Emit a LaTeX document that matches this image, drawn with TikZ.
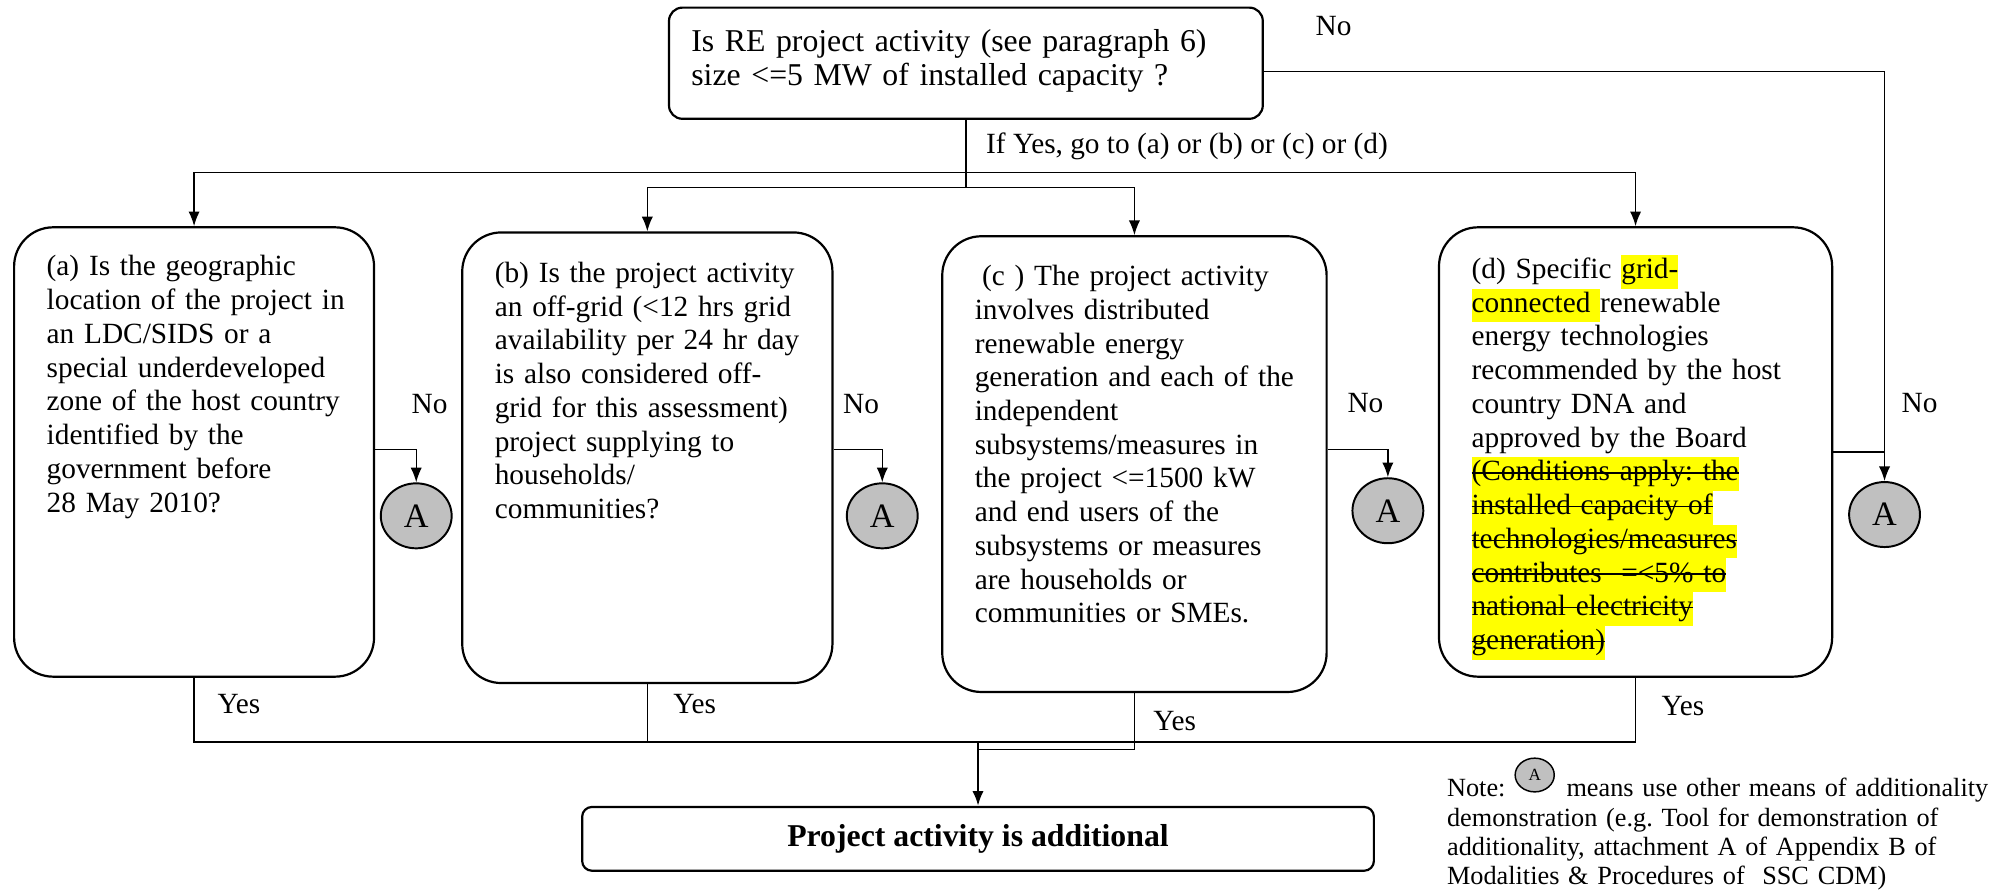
\documentclass[tikz,border=0pt]{standalone}
\usepackage{fontspec}
\setmainfont{Liberation Serif}
\usetikzlibrary{arrows.meta,shapes.geometric,calc}
\definecolor{agray}{HTML}{C0C0C0}
\definecolor{hlyellow}{HTML}{FFFF00}
\newsavebox{\stbox}
\newcommand{\hlt}[1]{{\setlength{\fboxsep}{0pt}\colorbox{hlyellow}{\strut #1}}}
\newcommand{\hls}[1]{{\setlength{\fboxsep}{0pt}\sbox{\stbox}{#1}%
  \colorbox{hlyellow}{\strut\rlap{\rule[0.25em]{\wd\stbox}{0.5pt}}\usebox{\stbox}}}}
\frenchspacing
\begin{document}
\begin{tikzpicture}[x=0.5225pt,y=-0.5225pt,
  qbox/.style={draw, line width=0.9pt, rounded corners=16pt, inner sep=0pt},
  topbox/.style={draw, line width=0.9pt, rounded corners=5.5pt, inner sep=0pt},
  resbox/.style={draw, line width=0.9pt, rounded corners=4pt, inner sep=0pt,
    font=\fontsize{13}{15}\selectfont\bfseries},
  txt/.style={anchor=base west, inner sep=0pt, align=left, text width=150pt,
    font=\fontsize{12}{13.8}\selectfont},
  toptxt/.style={anchor=base west, inner sep=0pt, align=left, text width=250pt,
    font=\fontsize{13}{14}\selectfont},
  lbl/.style={anchor=base west, inner sep=0pt, font=\fontsize{12}{13.8}\selectfont},
  notetxt/.style={anchor=base west, inner sep=0pt, align=left, text width=230pt,
    font=\fontsize{10.75}{12}\selectfont},
  acirc/.style={ellipse, draw, fill=agray, line width=0.8pt, inner sep=0pt,
    minimum width=29pt, minimum height=26.6pt, font=\fontsize{14}{16}\selectfont},
  smallcirc/.style={ellipse, draw, fill=agray, line width=0.6pt, inner sep=0pt,
    minimum width=16pt, minimum height=13.8pt, font=\fontsize{7}{8}\selectfont},
  conn/.style={line width=0.6pt},
  arr/.style={conn, -{Latex[length=6pt,width=4.6pt]}}
]
\useasboundingbox (0,0) rectangle (1568,699);

% boxes
\node[topbox, minimum width=243pt, minimum height=45.5pt] (top) at (756.5,49.5) {};
\node[qbox, minimum width=147.3pt, minimum height=183.9pt] (a) at (152,354) {};
\node[qbox, minimum width=151.5pt, minimum height=184.4pt] (b) at (507,358.5) {};
\node[qbox, minimum width=157.3pt, minimum height=186.5pt] (c) at (888.5,363.5) {};
\node[qbox, minimum width=160.9pt, minimum height=183.9pt] (d) at (1281,354) {};
\node[resbox, minimum width=324pt, minimum height=26.1pt] (res) at (766,657) {Project activity is additional};

% circles
\node[acirc] (A1) at (326,404) {A};
\node[acirc] (A2) at (691,404) {A};
\node[acirc] (A3) at (1087,400) {A};
\node[acirc] (A4) at (1476,403) {A};

% texts
\node[toptxt] (ttop) at ($(top.north west)+(18,35)$)
  {Is RE project activity (see paragraph 6)\\
   size <=5 MW of installed capacity ?};
\node[txt] (ta) at ($(a.north west)+(26,39)$)
  {(a) Is the geographic\\
   location of the project in\\
   an LDC/SIDS or a\\
   special underdeveloped\\
   zone of the host country\\
   identified by the\\
   government before\\
   28 May 2010?};
\node[txt] (tb) at ($(b.north west)+(26,40)$)
  {(b) Is the project activity\\
   an off-grid (<12 hrs grid\\
   availability per 24 hr day\\
   is also considered off-\\
   grid for this assessment)\\
   project supplying to\\
   households/\\
   communities?};
\node[txt] (tc) at ($(c.north west)+(26,39.5)$)
  {\hspace*{3pt}(c ) The project activity\\
   involves distributed\\
   renewable energy\\
   generation and each of the\\
   independent\\
   subsystems/measures in\\
   the project <=1500 kW\\
   and end users of the\\
   subsystems or measures\\
   are households or\\
   communities or SMEs.};
\node[txt] (td) at ($(d.north west)+(26,41)$)
  {(d) Specific \hlt{grid-}\\
   \hlt{connected\ }renewable\\
   energy technologies\\
   recommended by the host\\
   country DNA and\\
   approved by the Board\\
   \hls{(Conditions apply: the}\\
   \hls{installed capacity of}\\
   \hls{technologies/measures}\\
   \hls{contributes\ \ =<5\% to}\\
   \hls{national electricity}\\
   \hls{generation)}};

% labels
\node[lbl] (ifyes) at (772,120) {If Yes, go to (a) or (b) or (c) or (d)};
\node[lbl] (notop) at (1030,28) {No};
\node[lbl] (noa) at (322,324) {No};
\node[lbl] (nob) at (660,324) {No};
\node[lbl] (noc) at (1055,323) {No};
\node[lbl] (nod) at (1489,323) {No};
\node[lbl] (yesa) at (170,559) {Yes};
\node[lbl] (yesb) at (527,559) {Yes};
\node[lbl] (yesc) at (903,572) {Yes};
\node[lbl] (yesd) at (1301,560) {Yes};

% note
\node[notetxt] (note) at (1133,624)
  {Note:\hspace*{25pt}means use other means of additionality\\
   demonstration (e.g. Tool for demonstration of\\
   additionality, attachment A of Appendix B of\\
   Modalities \& Procedures of\ \ SSC CDM)};
\node[smallcirc] (An) at (1202,607) {A};

% junctions
\coordinate (j1) at (756.5,135);
\coordinate (j2) at (756.5,147);
\coordinate (yb) at (0,581);
\coordinate (yc) at (0,587);

% connectors
\draw[conn] (top.south) -- (j2);
\draw[arr] (j1) -| (a.north);
\draw[arr] (j1) -| (d.north);
\draw[arr] (j2) -| (b.north);
\draw[arr] (j2) -| (c.north);
\draw[arr] ($(top.east)+(0,6.5)$) -| (A4.north);
\draw[conn, line width=1.1pt] (d.east) -- (d.east -| A4.north);
\draw[arr] ($(a.east)+(0,-2)$) -| (A1.north);
\draw[arr] ($(b.east)+(0,-6.5)$) -| (A2.north);
\draw[arr] ($(c.east)+(0,-11.5)$) -| (A3.north);
\draw[conn] (a.south) -- (a.south |- yb) -- (d.south |- yb) -- (d.south);
\draw[conn] (b.south) -- (b.south |- yb);
\draw[conn] (c.south) -- (c.south |- yc) -- (res.north |- yc);
\draw[arr, line width=1pt] (res.north |- yb) -- (res.north);
\end{tikzpicture}
\end{document}
